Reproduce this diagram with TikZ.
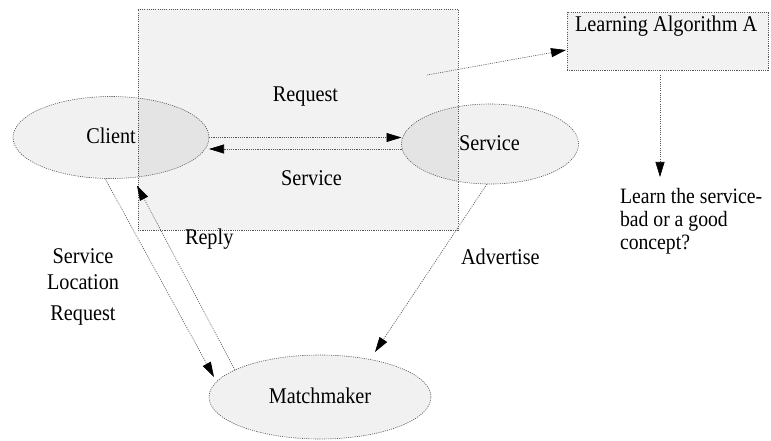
\documentclass[tikz,border=0pt]{standalone}
\usepackage{fontspec}
\setmainfont{Liberation Serif}[FakeStretch=0.9]
\usetikzlibrary{arrows.meta,calc,shapes.geometric}
\definecolor{boxfill}{HTML}{F2F2F2}
\definecolor{linegray}{HTML}{555555}
\begin{document}
\begin{tikzpicture}[x=1pt,y=-1pt,
  dotline/.style={draw=linegray, line width=0.6pt, dash pattern=on 1.1pt off 1.1pt},
  arr/.style={dotline, -{Triangle[length=15pt,width=9pt,color=black]}},
  txt/.style={font=\fontsize{22.5}{26}\selectfont, inner sep=0pt, outer sep=0pt},
  smalltxt/.style={font=\fontsize{21.9}{26}\selectfont, inner sep=0pt, outer sep=0pt},
  ell/.style={ellipse, dotline, fill=black, fill opacity=0.055, inner sep=0pt, outer sep=0pt},
  boxnode/.style={rectangle, dotline, fill=boxfill, inner sep=0pt, outer sep=0pt}]
\useasboundingbox (0,0) rectangle (771,441);

% frames
\node[boxnode, minimum width=320pt, minimum height=221pt] (frame) at (298,119.5) {};
\node[boxnode, minimum width=201pt, minimum height=58pt] (learn) at (667.5,41) {};

% ellipses
\node[ell, minimum width=196pt, minimum height=82pt] (client) at (111,137.5) {};
\node[ell, minimum width=177pt, minimum height=80pt] (service) at (490,144) {};
\node[ell, minimum width=222pt, minimum height=84pt] (mm) at (320,397) {};

% texts
\node[txt, anchor=base] (reqtxt) at (305.5,102) {Request};
\node[txt, anchor=base] (clienttxt) at (111,144) {Client};
\node[txt, anchor=base] (servtxt) at (311.5,185) {Service};
\node[txt, anchor=base] (servicetxt) at (489.5,150) {Service};
\node[txt, anchor=base west] (learntxt) at (575,32) {Learning Algorithm A};
\node[smalltxt, anchor=base west] (learnA) at (620,203) {Learn the service-};
\node[smalltxt, anchor=base west] (learnB) at (620,226) {bad or a good};
\node[smalltxt, anchor=base west] (learnC) at (620,249) {concept?};
\node[txt, anchor=base west] (replytxt) at (185,244) {Reply};
\node[txt, anchor=base] (slr1) at (83,263) {Service};
\node[txt, anchor=base] (slr2) at (83,289.5) {Location};
\node[txt, anchor=base] (slr3) at (83,320) {Request};
\node[txt, anchor=base west] (advtxt) at (461,264) {Advertise};
\node[txt, anchor=base] (mmtxt) at (320,403) {Matchmaker};

% connectors
\coordinate (rq) at (427,75);
\draw[arr] (client.east) -- (client.east -| service.west);
\draw[arr] ($(service.west)+(0,5)$) -- ($(client.east)+(0,11.5)$);
\draw[arr] (rq) -- ($(learn.west)+(-1,9)$);
\draw[arr] ($(learn.south)+(-7.5,5)$) -- ($(learn.south)+(-7.5,107)$);
\draw[arr] ($(client.south)+(-6,0)$) -- ($(mm.west)+(5,-20)$);
\draw[arr] ($(mm.west)+(26,-27)$) -- ($(client.south)+(26,7)$);
\draw[arr] ($(service.south)+(-3,0)$) -- ($(mm.north)+(55,-3)$);
\end{tikzpicture}
\end{document}
